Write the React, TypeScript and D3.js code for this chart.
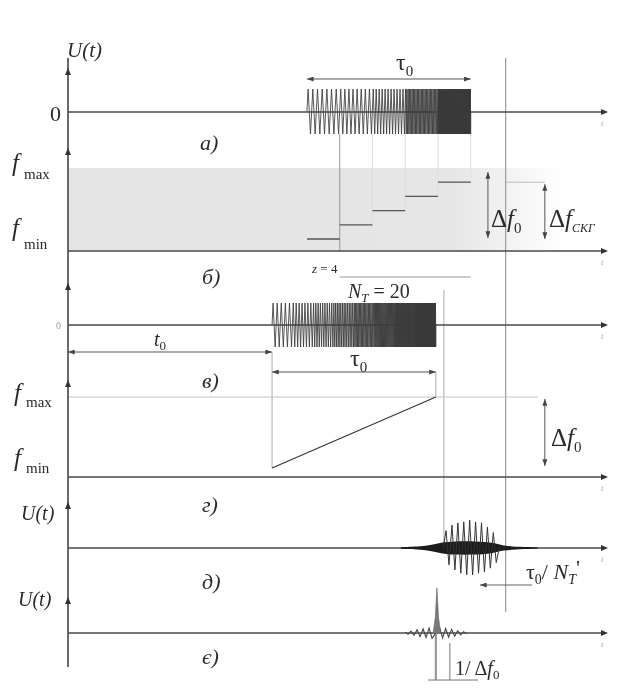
import React from "react";
import * as d3 from "d3";

// time axis runs 0..10 (arbitrary units), pulses
const t0 = 3.8; // delay of the chirp pulse
const tau0 = 3.05; // pulse length
const stepStart = 4.45; // start of stepped-frequency pulse
const refT = 8.15; // right reference line
const guideT = 7.0;

// а) / б) stepped frequency pulse, z = 4 steps -> 5 sub-pulses
const stepCycles = [7, 8, 11, 25, 70];
const stepFreq = [0, 0.2, 0.4, 0.6, 0.8];

// в) / г) linear chirp
const chirpCycles = [5, 7, 9, 12, 16, 22, 30, 45];
const rampFreq = [0, 1];

// д) compressed pulse
const compPeakT = [7.04, 7.15, 7.26, 7.37, 7.48, 7.59, 7.7, 7.81, 7.92];
const compUp = [0.62, 0.82, 0.9, 0.93, 1.0, 0.93, 0.9, 0.75, 0.55];
const compDown = [0.6, 0.78, 0.9, 0.96, 0.96, 0.9, 0.86, 0.72, 0.52];
const compCore: [number, number][] = [
  [6.2, 0.03], [6.7, 0.06], [6.95, 0.2], [7.2, 0.24], [7.6, 0.24],
  [7.9, 0.2], [8.1, 0.08], [8.4, 0.04], [8.75, 0.02],
];

// е) sinc-like peak after compression
const sincMain: [number, number][] = [
  [6.8, 0], [6.84, 0.35], [6.86, 0.8], [6.87, 1], [6.88, 0.8], [6.9, 0.35], [6.94, 0],
];
const sincLobes = [0.12, 0.11, 0.1, 0.09, 0.08, 0.07, 0.05, 0.04, 0.03, 0.02];

const FONT = "'Liberation Serif', 'Times New Roman', serif";
const INK = "#2b2b2b";

function zigzag(bounds: number[], cycles: number[]): [number, number][] {
  const pts: [number, number][] = [[bounds[0], 0]];
  cycles.forEach((n, i) => {
    const a = bounds[i];
    const w = (bounds[i + 1] - a) / n;
    for (let j = 0; j < n; j++) {
      pts.push([a + (j + 0.25) * w, 1], [a + (j + 0.75) * w, -1]);
    }
  });
  pts.push([bounds[bounds.length - 1], 0]);
  return pts;
}

const Sub = ({ children, size = 15, dy = 6 }: any) => (
  <tspan fontSize={size} dy={dy} fontStyle="normal">
    {children}
  </tspan>
);

export default function App() {
  const x = d3.scaleLinear().domain([0, 10]).range([68, 605]);

  const baseA = 112, baseB = 251, baseC = 325, baseD = 477, baseE = 548, baseF = 633;
  const ampA = d3.scaleLinear().domain([-1, 1]).range([baseA + 22, baseA - 23]);
  const fB = d3.scaleLinear().domain([0, 1]).range([239, 168]);
  const ampC = d3.scaleLinear().domain([-1, 1]).range([baseC + 22, baseC - 22]);
  const fD = d3.scaleLinear().domain([0, 1]).range([468, 397]);
  const ampE = d3.scaleLinear().domain([-1, 1]).range([baseE + 28, baseE - 28]);
  const ampF = d3.scaleLinear().domain([-1, 1]).range([baseF + 45, baseF - 45]);

  const line = d3.line<[number, number]>();
  const n = stepCycles.length;
  const stepBounds = d3.range(n + 1).map((k) => stepStart + (k * tau0) / n);
  const chirpBounds = d3.range(chirpCycles.length + 1).map(
    (k) => t0 + (k * tau0) / chirpCycles.length
  );

  const pathA = line(zigzag(stepBounds, stepCycles).map(([t, a]) => [x(t), ampA(a)]));
  const pathC = line(zigzag(chirpBounds, chirpCycles).map(([t, a]) => [x(t), ampC(a)]));

  // д) spikes
  const half = (compPeakT[1] - compPeakT[0]) / 2;
  const dPts: [number, number][] = [[x(compPeakT[0] - half), baseE]];
  compPeakT.forEach((t, i) => {
    dPts.push([x(t), ampE(compUp[i])], [x(t + half), ampE(-compDown[i])]);
  });
  dPts.push([x(compPeakT[compPeakT.length - 1] + 2 * half), baseE]);
  const coreArea = d3
    .area<[number, number]>()
    .x((d) => x(d[0]))
    .y0((d) => ampE(-d[1]))
    .y1((d) => ampE(d[1]))
    .curve(d3.curveBasis);

  // е) sidelobes
  const peakT = t0 + tau0;
  const lobeStep = 0.056;
  const lobePts: [number, number][] = [];
  for (let k = sincLobes.length - 1; k >= 0; k--) {
    lobePts.push([x(peakT - 0.07 - k * lobeStep), ampF((k % 2 ? 1 : -1) * sincLobes[k])]);
  }
  lobePts.push([x(peakT), baseF]);
  sincLobes.forEach((a, k) => {
    lobePts.push([x(peakT + 0.07 + k * lobeStep), ampF((k % 2 ? -1 : 1) * a)]);
  });
  const mainArea = d3
    .area<[number, number]>()
    .x((d) => x(d[0]))
    .y0(baseF)
    .y1((d) => ampF(d[1]));

  const bases = [baseA, baseB, baseC, baseD, baseE, baseF];
  const axisTops = [73, 153, 288, 385, 507, 602];

  const txt = { fontFamily: FONT, fill: INK } as const;

  return (
    <svg
      width={620}
      height={700}
      style={{ position: "absolute", left: 0, top: 0, background: "#fff" }}
    >
      <defs>
        <marker id="ah" viewBox="0 0 8 6" refX="8" refY="3" markerWidth="7" markerHeight="5"
          orient="auto-start-reverse" markerUnits="userSpaceOnUse">
          <path d="M0,0 L8,3 L0,6 z" fill="#444" />
        </marker>
        <linearGradient id="shade" x1="0" x2="1" y1="0" y2="0">
          <stop offset="0" stopColor="#e4e4e4" />
          <stop offset="0.78" stopColor="#e6e6e6" />
          <stop offset="1" stopColor="#ffffff" />
        </linearGradient>
        <filter id="soft">
          <feGaussianBlur stdDeviation="0.55" />
        </filter>
      </defs>

      <g filter="url(#soft)">
        {/* б) shaded band */}
        <rect x={x(0)} y={fB(1)} width={x(9.2) - x(0)} height={baseB - fB(1)} fill="url(#shade)" />

        {/* vertical guides */}
        <line x1={x(refT)} x2={x(refT)} y1={58} y2={612} stroke="#9a9a9a" strokeWidth={1.2} />
        <line x1={x(guideT)} x2={x(guideT)} y1={290} y2={baseE} stroke="#aaa" strokeWidth={1} />
        <line x1={x(t0)} x2={x(t0)} y1={352} y2={fD(0)} stroke="#aaa" strokeWidth={1} />
        <line x1={x(t0 + tau0)} x2={x(t0 + tau0)} y1={372} y2={fD(1)} stroke="#aaa" strokeWidth={1} />
        {stepBounds.slice(1).map((t, k) => (
          <line key={k} x1={x(t)} x2={x(t)} y1={ampA(-1)} y2={k === 0 ? baseB : fB(stepFreq[k]) - 4}
            stroke={k === 0 ? "#999" : "#ddd"} strokeWidth={1} />
        ))}
        <line x1={x(0)} x2={x(8.75)} y1={fD(1)} y2={fD(1)} stroke="#c4c4c4" strokeWidth={1} />
        <line x1={x(refT)} x2={x(8.88)} y1={fB(stepFreq[4])} y2={fB(stepFreq[4])} stroke="#bbb" strokeWidth={1} />

        {/* main axes */}
        <line x1={68} x2={68} y1={58} y2={667} stroke="#444" strokeWidth={1.6} />
        {axisTops.map((y, i) => (
          <path key={i} d={`M68,${y - 5} L65,${y + 2} L71,${y + 2} z`} fill="#333" />
        ))}
        {bases.map((y, i) => (
          <g key={i}>
            <line x1={68} x2={605} y1={y} y2={y} stroke="#4a4a4a" strokeWidth={1.5} />
            <path d={`M608,${y} L601,${y - 3} L601,${y + 3} z`} fill="#333" />
            <text x={601} y={y + 14} fontSize={9} fontStyle="italic" fill="#aaa" fontFamily={FONT}>t</text>
          </g>
        ))}

        {/* а) stepped pulse */}
        <path d={pathA ?? ""} fill="none" stroke="#3a3a3a" strokeWidth={0.85} />
        <line x1={x(stepBounds[0])} x2={x(stepBounds[n])} y1={79} y2={79} stroke="#555" strokeWidth={1}
          markerStart="url(#ah)" markerEnd="url(#ah)" />

        {/* б) frequency steps */}
        {stepFreq.map((f, k) => (
          <line key={k} x1={x(stepBounds[k])} x2={x(stepBounds[k + 1])} y1={fB(f)} y2={fB(f)}
            stroke="#555" strokeWidth={1.3} />
        ))}
        <line x1={x(7.82)} x2={x(7.82)} y1={fB(1) + 4} y2={fB(0) - 1} stroke="#555" strokeWidth={1}
          markerStart="url(#ah)" markerEnd="url(#ah)" />
        <line x1={x(8.88)} x2={x(8.88)} y1={fB(stepFreq[4]) + 2} y2={fB(0)} stroke="#555" strokeWidth={1}
          markerStart="url(#ah)" markerEnd="url(#ah)" />
        <line x1={x(stepBounds[1])} x2={x(stepBounds[n])} y1={277} y2={277} stroke="#999" strokeWidth={1} />

        {/* в) chirp pulse */}
        <path d={pathC ?? ""} fill="none" stroke="#3a3a3a" strokeWidth={0.85} />
        <line x1={x(0)} x2={x(t0)} y1={352} y2={352} stroke="#555" strokeWidth={1}
          markerStart="url(#ah)" markerEnd="url(#ah)" />
        <line x1={x(t0)} x2={x(t0 + tau0)} y1={372} y2={372} stroke="#555" strokeWidth={1}
          markerStart="url(#ah)" markerEnd="url(#ah)" />

        {/* г) linear ramp */}
        <path d={line(rampFreq.map((f, i) => [x(t0 + i * tau0), fD(f)])) ?? ""} stroke="#333" strokeWidth={1.1} fill="none" />
        <line x1={x(8.88)} x2={x(8.88)} y1={fD(1) + 2} y2={fD(0) - 2} stroke="#555" strokeWidth={1}
          markerStart="url(#ah)" markerEnd="url(#ah)" />

        {/* д) compressed pulse */}
        <path d={coreArea(compCore) ?? ""} fill="#1a1a1a" />
        <path d={line(dPts) ?? ""} fill="none" stroke="#333" strokeWidth={1} />
        <line x1={480} x2={532} y1={585} y2={585} stroke="#666" strokeWidth={1} markerStart="url(#ah)" />

        {/* е) compressed peak */}
        <line x1={x(peakT)} x2={x(peakT)} y1={baseF} y2={680} stroke="#999" strokeWidth={2.2} />
        <line x1={x(peakT) + 14} x2={x(peakT) + 14} y1={643} y2={680} stroke="#777" strokeWidth={1} />
        <line x1={428} x2={478} y1={680} y2={680} stroke="#777" strokeWidth={1} />
        <path d={line(lobePts) ?? ""} fill="none" stroke="#444" strokeWidth={1.1} />
        <path d={mainArea(sincMain) ?? ""} fill="#7a7a7a" stroke="#666" strokeWidth={0.6} />
      </g>

      {/* texts */}
      <g {...txt} filter="url(#soft)">
        <text x={67} y={57} fontSize={21} fontStyle="italic">U(t)</text>
        <text x={50} y={121} fontSize={22}>0</text>
        <text x={396} y={70} fontSize={24}>τ<Sub>0</Sub></text>
        <text x={200} y={150} fontSize={22} fontStyle="italic">а)</text>

        <text x={12} y={171} fontSize={25} fontStyle="italic">f</text>
        <text x={24} y={179} fontSize={15}>max</text>
        <text x={12} y={236} fontSize={25} fontStyle="italic">f</text>
        <text x={24} y={249} fontSize={15}>min</text>
        <text x={202} y={284} fontSize={22} fontStyle="italic">б)</text>
        <text x={312} y={273} fontSize={13}><tspan fontStyle="italic">z</tspan> = 4</text>
        <text x={348} y={298} fontSize={20}>
          <tspan fontStyle="italic">N</tspan>
          <tspan fontSize={13} dy={4} fontStyle="italic">T</tspan>
          <tspan dy={-4}> = 20</tspan>
        </text>
        <text x={491} y={227} fontSize={25}>Δ<tspan fontStyle="italic">f</tspan><Sub>0</Sub></text>
        <text x={549} y={227} fontSize={25}>Δ<tspan fontStyle="italic">f</tspan>
          <tspan fontSize={12} dy={5} fontStyle="italic">СКГ</tspan>
        </text>

        <text x={56} y={329} fontSize={10} fill="#999">0</text>
        <text x={154} y={346} fontSize={20} fontStyle="italic">t<Sub size={13} dy={4}>0</Sub></text>
        <text x={202} y={388} fontSize={22} fontStyle="italic">в)</text>
        <text x={350} y={366} fontSize={24}>τ<Sub>0</Sub></text>

        <text x={14} y={401} fontSize={25} fontStyle="italic">f</text>
        <text x={26} y={407} fontSize={15}>max</text>
        <text x={14} y={466} fontSize={25} fontStyle="italic">f</text>
        <text x={26} y={473} fontSize={15}>min</text>
        <text x={551} y={446} fontSize={25}>Δ<tspan fontStyle="italic">f</tspan><Sub>0</Sub></text>
        <text x={202} y={512} fontSize={22} fontStyle="italic">г)</text>

        <text x={21} y={520} fontSize={20} fontStyle="italic">U(t)</text>
        <text x={202} y={589} fontSize={22} fontStyle="italic">д)</text>
        <text x={526} y={579} fontSize={22}>
          τ<Sub size={14} dy={5}>0</Sub>
          <tspan dy={-5}>/ </tspan>
          <tspan fontStyle="italic">N</tspan>
          <tspan fontSize={14} dy={5} fontStyle="italic">T</tspan>
          <tspan dy={-9}>'</tspan>
        </text>

        <text x={18} y={606} fontSize={20} fontStyle="italic">U(t)</text>
        <text x={202} y={664} fontSize={22} fontStyle="italic">є)</text>
        <text x={455} y={675} fontSize={20}>
          1/ Δ<tspan fontStyle="italic">f</tspan><Sub size={13} dy={4}>0</Sub>
        </text>
      </g>
    </svg>
  );
}
